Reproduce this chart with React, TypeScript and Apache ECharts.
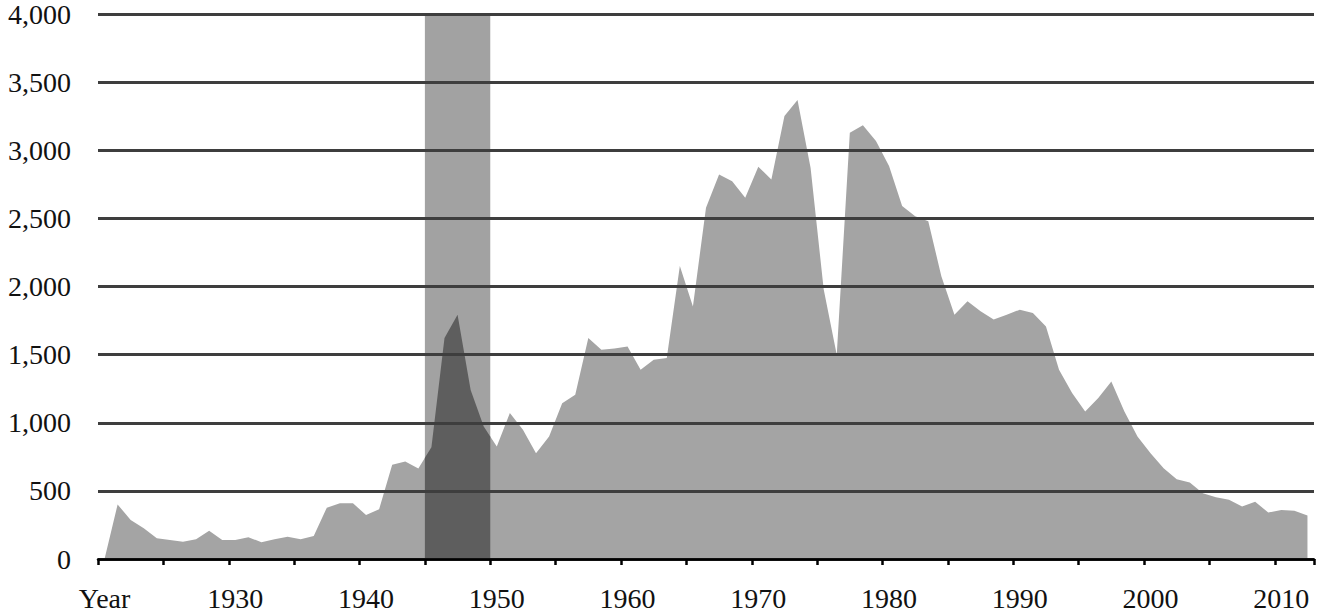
import React, { useEffect, useRef } from "react";
import * as echarts from "echarts";

const categories: string[] = [
  "Year", "1921", "1922", "1923", "1924", "1925", "1926", "1927", "1928", "1929", "1930",
  "1931", "1932", "1933", "1934", "1935", "1936", "1937", "1938", "1939", "1940",
  "1941", "1942", "1943", "1944", "1945", "1946", "1947", "1948", "1949", "1950",
  "1951", "1952", "1953", "1954", "1955", "1956", "1957", "1958", "1959", "1960",
  "1961", "1962", "1963", "1964", "1965", "1966", "1967", "1968", "1969", "1970",
  "1971", "1972", "1973", "1974", "1975", "1976", "1977", "1978", "1979", "1980",
  "1981", "1982", "1983", "1984", "1985", "1986", "1987", "1988", "1989", "1990",
  "1991", "1992", "1993", "1994", "1995", "1996", "1997", "1998", "1999", "2000",
  "2001", "2002", "2003", "2004", "2005", "2006", "2007", "2008", "2009", "2010",
  "2011", "2012",
];

const values: number[] = [
  0, 400, 287, 226, 152, 140, 127, 145, 208, 140, 140,
  160, 123, 145, 164, 145, 169, 377, 409, 409, 323,
  365, 691, 715, 665, 820, 1622, 1793, 1240, 972, 825,
  1071, 948, 777, 899, 1144, 1205, 1622, 1536, 1545, 1560,
  1389, 1462, 1475, 2150, 1854, 2578, 2822, 2773, 2651, 2879,
  2786, 3251, 3369, 2870, 1980, 1500, 3129, 3183, 3067, 2884,
  2590, 2516, 2479, 2075, 1793, 1891, 1818, 1757, 1793, 1830,
  1806, 1707, 1389, 1218, 1083, 1181, 1303, 1083, 899, 777,
  666, 586, 561, 483, 453, 434, 385, 421, 341, 360,
  355, 320,
];

const bandFirst = "1945";
const bandLast = "1949";
const yMin = 0;
const yMax = 4000;
const yStep = 500;

const AREA = "#a4a4a4";
const BAND = "#a2a2a2";
const OVERLAP = "#5e5e5e";
const GRIDLINE = "#3e3e3e";
const FONT = "'Liberation Serif', 'Times New Roman', serif";

export default function App() {
  const ref = useRef<HTMLDivElement>(null);

  useEffect(() => {
    if (!ref.current) return;
    const chart = echarts.init(ref.current, undefined, { renderer: "svg" });
    const s = categories.indexOf(bandFirst);
    const e = categories.indexOf(bandLast);

    const option: any = {
      animation: false,
      grid: { left: 98, right: 6, top: 13.5, bottom: 57 },
      xAxis: {
        type: "category",
        data: categories,
        boundaryGap: true,
        z: 11,
        axisLine: { show: true, lineStyle: { color: "#000", width: 2.5 } },
        axisTick: {
          show: true,
          interval: 4,
          length: 6,
          lineStyle: { color: "#000", width: 2.5 },
        },
        axisLabel: {
          interval: 9,
          fontFamily: FONT,
          fontSize: 28,
          color: "#111",
          margin: 25,
        },
        splitLine: { show: false },
      },
      yAxis: {
        type: "value",
        min: yMin,
        max: yMax,
        interval: yStep,
        z: 10,
        axisLine: { show: false },
        axisTick: { show: false },
        axisLabel: {
          fontFamily: FONT,
          fontSize: 28,
          color: "#111",
          margin: 27,
          formatter: (v: number) => v.toLocaleString("en-US"),
        },
        splitLine: { show: true, lineStyle: { color: GRIDLINE, width: 3 } },
      },
      series: [
        {
          type: "custom",
          z: 1,
          silent: true,
          data: [[s, e]],
          renderItem: (_p: any, api: any) => {
            const a = api.value(0);
            const b = api.value(1);
            const bw = api.size([1, 0])[0];
            const x0 = api.coord([a, 0])[0] - bw / 2;
            const x1 = api.coord([b, 0])[0] + bw / 2;
            const yTop = api.coord([a, yMax])[1];
            const yBase = api.coord([a, yMin])[1];
            return {
              type: "rect",
              shape: { x: x0, y: yTop, width: x1 - x0, height: yBase - yTop },
              style: { fill: BAND },
            };
          },
        },
        {
          type: "line",
          z: 2,
          data: values,
          symbol: "none",
          lineStyle: { width: 0, color: AREA },
          areaStyle: { color: AREA, opacity: 1 },
          silent: true,
        },
        {
          type: "custom",
          z: 3,
          silent: true,
          data: [[s, e]],
          renderItem: (_p: any, api: any) => {
            const a = api.value(0);
            const b = api.value(1);
            const bw = api.size([1, 0])[0];
            const x0 = api.coord([a, 0])[0] - bw / 2;
            const x1 = api.coord([b, 0])[0] + bw / 2;
            const yBase = api.coord([a, yMin])[1];
            const pts = values.map((v, i) => api.coord([i, v]));
            const yAt = (x: number) => {
              for (let i = 0; i < pts.length - 1; i++) {
                const p = pts[i];
                const q = pts[i + 1];
                if (x >= p[0] && x <= q[0]) {
                  const t = (x - p[0]) / (q[0] - p[0]);
                  return p[1] + t * (q[1] - p[1]);
                }
              }
              return yBase;
            };
            const poly: number[][] = [[x0, yBase], [x0, yAt(x0)]];
            pts.forEach((p: number[]) => {
              if (p[0] > x0 && p[0] < x1) poly.push(p);
            });
            poly.push([x1, yAt(x1)]);
            poly.push([x1, yBase]);
            return {
              type: "polygon",
              shape: { points: poly },
              style: { fill: OVERLAP },
            };
          },
        },
      ],
    };

    chart.setOption(option);
    return () => chart.dispose();
  }, []);

  return (
    <div
      ref={ref}
      style={{ position: "absolute", left: 0, top: 0, width: 1320, height: 616, background: "#fff" }}
    />
  );
}
